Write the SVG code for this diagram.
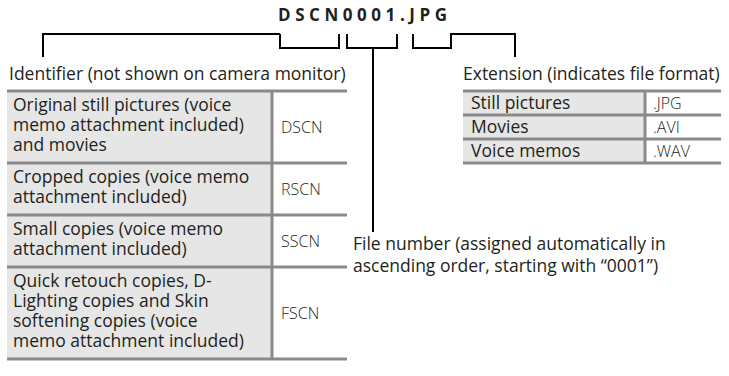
<svg xmlns="http://www.w3.org/2000/svg" width="729" height="376" viewBox="0 0 729 376">
<style>
  text { font-family: "Open Sans", "Noto Sans", "Liberation Sans", sans-serif; fill: #231f20; }
  .lbl { font-size: 17.5px; }
  .cell { font-size: 17.5px; }
  .code { font-size: 16px; font-weight: 300; }
  .title { font-size: 17px; font-weight: bold; letter-spacing: 3px; }
  .br { fill: none; stroke: #000; stroke-width: 2; }
  .rule { stroke: #8a8a8a; stroke-width: 3; }
  .gray { fill: #e6e6e6; }
</style>
<rect width="729" height="376" fill="#fff"/>
<g id="title"><text class="title" x="278" y="21" textLength="172">DSCN0001.JPG</text></g>
<g id="connectors">
  <path class="br" d="M43 57 V34 H280"/>
  <path class="br" d="M280 34 V48 H339 V34"/>
  <path class="br" d="M347 34 V48 H397 V34"/>
  <path class="br" d="M373 48 V232"/>
  <path class="br" d="M413 34 V48 H451 V34 H515 V57"/>
</g>
<g id="identifier">
  <text class="lbl" x="9" y="80">Identifier (not shown on camera monitor)</text>
  <rect class="gray" x="7" y="91" width="265" height="268"/>
  <g>
    <line class="rule" x1="7" y1="91" x2="347" y2="91"/>
    <line class="rule" x1="7" y1="163" x2="347" y2="163"/>
    <line class="rule" x1="7" y1="215" x2="347" y2="215"/>
    <line class="rule" x1="7" y1="267" x2="347" y2="267"/>
    <line class="rule" x1="7" y1="359" x2="347" y2="359"/>
    <line class="rule" x1="272" y1="91" x2="272" y2="359"/>
  </g>
  <text class="cell" x="13" y="111">Original still pictures (voice</text>
  <text class="cell" x="13" y="131">memo attachment included)</text>
  <text class="cell" x="13" y="151">and movies</text>
  <text class="code" x="281" y="133">DSCN</text>
  <text class="cell" x="13" y="183">Cropped copies (voice memo</text>
  <text class="cell" x="13" y="203">attachment included)</text>
  <text class="code" x="281" y="195">RSCN</text>
  <text class="cell" x="13" y="235">Small copies (voice memo</text>
  <text class="cell" x="13" y="255">attachment included)</text>
  <text class="code" x="281" y="247">SSCN</text>
  <text class="cell" x="13" y="287">Quick retouch copies, D-</text>
  <text class="cell" x="13" y="307">Lighting copies and Skin</text>
  <text class="cell" x="13" y="327">softening copies (voice</text>
  <text class="cell" x="13" y="347">memo attachment included)</text>
  <text class="code" x="281" y="319">FSCN</text>
</g>
<g id="extension">
  <text class="lbl" x="463" y="80">Extension (indicates file format)</text>
  <rect class="gray" x="463" y="91" width="182" height="72"/>
  <line class="rule" x1="463" y1="91" x2="721" y2="91"/>
  <line class="rule" x1="463" y1="115" x2="721" y2="115"/>
  <line class="rule" x1="463" y1="139" x2="721" y2="139"/>
  <line class="rule" x1="463" y1="163" x2="721" y2="163"/>
  <line class="rule" x1="645" y1="91" x2="645" y2="163"/>
  <text class="cell" x="471" y="109">Still pictures</text>
  <text class="code" x="653" y="109">.JPG</text>
  <text class="cell" x="471" y="133">Movies</text>
  <text class="code" x="653" y="133">.AVI</text>
  <text class="cell" x="471" y="157">Voice memos</text>
  <text class="code" x="653" y="157">.WAV</text>
</g>
<g id="filenumber">
  <text class="lbl" x="353" y="250">File number (assigned automatically in</text>
  <text class="lbl" x="353" y="272">ascending order, starting with “0001”)</text>
</g>
</svg>
